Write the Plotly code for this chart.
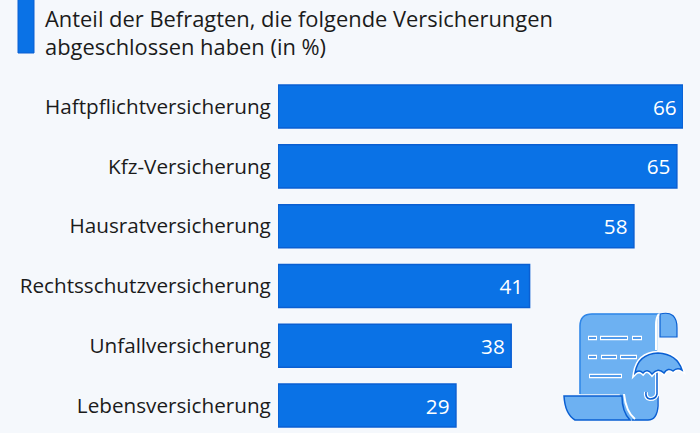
import plotly.graph_objects as go

categories = ["Haftpflichtversicherung", "Kfz-Versicherung", "Hausratversicherung",
              "Rechtsschutzversicherung", "Unfallversicherung", "Lebensversicherung"]
values = [66, 65, 58, 41, 38, 29]
title_lines = ["Anteil der Befragten, die folgende Versicherungen", "abgeschlossen haben (in %)"]

W, H = 700, 433
BG = "#f5f8fc"
BLUE = "#0a72e6"
DARK = "#0a5fd2"
LIGHT = "#6db1f2"
LABEL_FONT = 20.7
TITLE_FONT = 21.9
VALUE_FONT = 20.7

fig = go.Figure()
fig.add_trace(go.Bar(
    x=values, y=categories, orientation="h", width=0.72,
    marker=dict(color=BLUE, line=dict(color=DARK, width=1.5)),
    text=values, texttemplate="%{x}\u2009", textposition="inside", insidetextanchor="end",
    textfont=dict(family="Open Sans", size=VALUE_FONT, color="white"),
    textangle=0, cliponaxis=False, hoverinfo="skip",
))
# invisible overlay axes in pixel units, for the decorative icon
fig.add_trace(go.Scatter(x=[0], y=[0], xaxis="x2", yaxis="y2", mode="markers",
                         marker=dict(opacity=0), showlegend=False, hoverinfo="skip"))


def deco(path, fill=LIGHT, line=DARK, width=1.5):
    return dict(type="path", path=path, xref="x2", yref="y2", fillcolor=fill,
                line=dict(color=line, width=width), layer="above")


def stroke(path, color=DARK, width=1.5):
    return dict(type="path", path=path, xref="x2", yref="y2",
                line=dict(color=color, width=width), layer="above")


def dash(x0, x1, y):
    return dict(type="line", x0=x0, x1=x1, y0=y, y1=y, xref="x2", yref="y2",
                line=dict(color="white", width=4.5), layer="above"), \
           dict(type="line", x0=x0 + 1, x1=x1 - 1, y0=y, y1=y, xref="x2", yref="y2",
                line=dict(color="#3f90ea", width=1.8), layer="above")


CANOPY = ("M635,373 Q638,354 658,353 Q677,354 682,370 Q677,367 673,371 Q668,367 664,373 "
          "Q658,367 652,374 Q647,368 643,373 Q639,369 635,373 Z")
HANDLE = "M657,372 L657,394 Q656,399 650,399 Q645,398 646,392"

shapes = [
    dict(type="rect", x0=18, x1=34, y0=-2, y1=53, xref="x2", yref="y2",
         fillcolor=BLUE, line=dict(color=DARK, width=1), layer="above"),
    # top-right curl
    deco("M660,314 Q677,310 677,328 L677,337 L660,337 Z", width=1.2),
    # page body
    deco("M580,326 Q580,314 592,314 L659,314 Q657,316 657,325 L657,405 "
         "Q657,420 648,420 L620,420 L620,394 L580,394 Z", line=LIGHT, width=0.5),
    # page outline accents
    stroke("M580,394 L580,326 Q580,314 592,314 L659,314", "#2f86e8", 1.5),
    stroke("M659,314 Q656,317 656,326 L656,350", "white", 2),
    stroke("M632,420 L648,420 Q657,420 658,406 L658,396", DARK, 1.5),
    # bottom scroll
    deco("M564,396 L622,396 Q622,412 630,420 L575,420 Q565,414 564,396 Z"),
    stroke("M624,394 Q626,412 635,419", "white", 2),
    # umbrella handle
    stroke(HANDLE, "white", 4),
    stroke(HANDLE, DARK, 1.5),
    # umbrella canopy
    stroke(CANOPY, "white", 4.5),
    deco(CANOPY, width=1.5),
]
for x0, x1, y in [(588, 597, 338), (600, 628, 338), (632, 642, 338),
                  (588, 597, 357), (601, 617, 357), (620, 637, 357),
                  (589, 622, 376)]:
    shapes.extend(dash(x0, x1, y))

annotations = [
    dict(text=title_lines[0], x=43, y=18.5, xref="x2", yref="y2", showarrow=False, xanchor="left",
         yanchor="middle", font=dict(family="Open Sans", size=TITLE_FONT, color="#1b1b1b")),
    dict(text=title_lines[1], x=43, y=46.5, xref="x2", yref="y2", showarrow=False, xanchor="left",
         yanchor="middle", font=dict(family="Open Sans", size=TITLE_FONT, color="#1b1b1b")),
]

fig.update_layout(
    width=W, height=H, autosize=False,
    margin=dict(l=0, r=0, t=0, b=0, pad=0),
    paper_bgcolor=BG, plot_bgcolor="rgba(0,0,0,0)",
    showlegend=False,
    xaxis=dict(domain=[278 / W, 683 / W], range=[0, 66], visible=False, fixedrange=True),
    yaxis=dict(domain=[0, 1 - 76.7 / H], autorange=False, range=[5.46, -0.5], type="category",
               categoryorder="array", categoryarray=categories, showline=False, showgrid=False, zeroline=False,
               ticks="outside", ticklen=2, tickcolor="rgba(0,0,0,0)", automargin=False,
               tickfont=dict(family="Open Sans", size=LABEL_FONT, color="#1b1b1b")),
    xaxis2=dict(domain=[0, 1], range=[0, W], visible=False, anchor="y2"),
    yaxis2=dict(domain=[0, 1], range=[H, 0], visible=False, anchor="x2"),
    shapes=shapes, annotations=annotations,
)
fig.write_html("out.html", config=dict(displayModeBar=False),
               post_script=f"document.body.style.margin='0';document.body.style.background='{BG}';")
